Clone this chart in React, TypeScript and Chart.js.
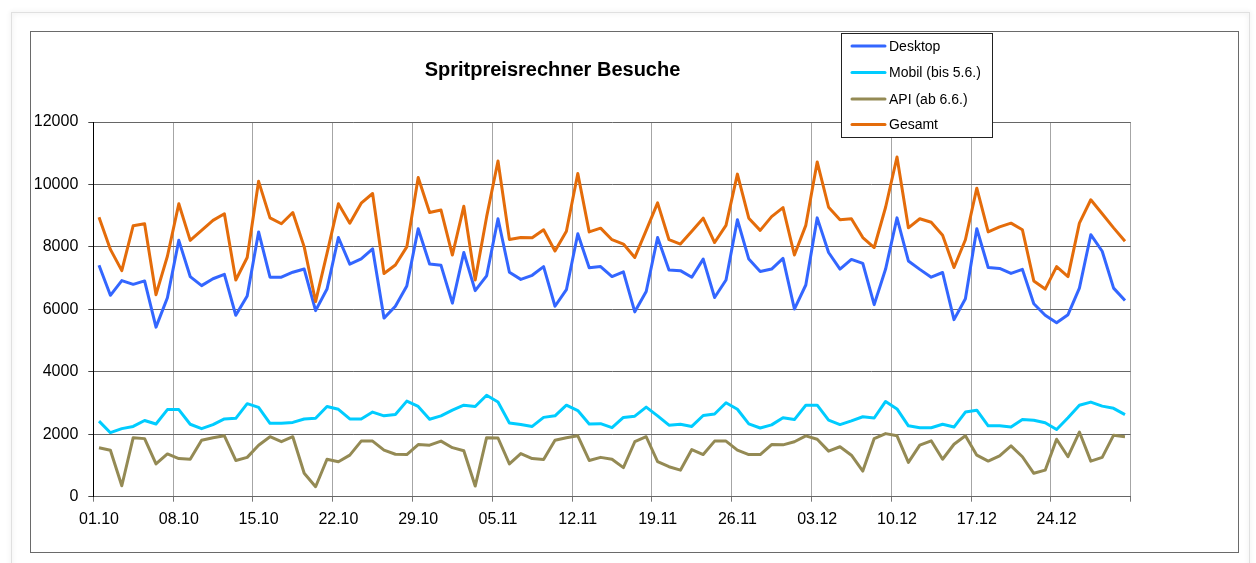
import React, { useEffect, useRef } from 'react';
import { Chart, registerables } from 'chart.js';

Chart.register(...registerables);

const categories = [
  '01.10','02.10','03.10','04.10','05.10','06.10','07.10','08.10','09.10','10.10',
  '11.10','12.10','13.10','14.10','15.10','16.10','17.10','18.10','19.10','20.10',
  '21.10','22.10','23.10','24.10','25.10','26.10','27.10','28.10','29.10','30.10','31.10',
  '01.11','02.11','03.11','04.11','05.11','06.11','07.11','08.11','09.11','10.11',
  '11.11','12.11','13.11','14.11','15.11','16.11','17.11','18.11','19.11','20.11',
  '21.11','22.11','23.11','24.11','25.11','26.11','27.11','28.11','29.11','30.11',
  '01.12','02.12','03.12','04.12','05.12','06.12','07.12','08.12','09.12','10.12',
  '11.12','12.12','13.12','14.12','15.12','16.12','17.12','18.12','19.12','20.12',
  '21.12','22.12','23.12','24.12','25.12','26.12','27.12','28.12','29.12','30.12',
];

const desktop = [
  7410, 6450, 6920, 6800, 6910, 5430, 6370, 8210, 7050, 6760,
  6980, 7120, 5810, 6430, 8480, 7030, 7030, 7190, 7290, 5960,
  6650, 8300, 7450, 7620, 7940, 5720, 6100, 6750, 8580, 7450, 7410,
  6200, 7820, 6600, 7070, 8900, 7190, 6960, 7090, 7370, 6100,
  6630, 8420, 7330, 7370, 7050, 7200, 5920, 6570, 8300, 7260,
  7240, 7030, 7610, 6380, 6940, 8870, 7610, 7210, 7290, 7630,
  6010, 6780, 8930, 7820, 7290, 7600, 7470, 6150, 7290, 8930,
  7550, 7280, 7030, 7180, 5670, 6340, 8580, 7340, 7310, 7150,
  7280, 6180, 5810, 5570, 5830, 6680, 8390, 7860, 6680, 6280,
];

const mobil = [
  2420, 2050, 2180, 2250, 2440, 2330, 2790, 2790, 2320, 2180,
  2310, 2490, 2510, 2980, 2860, 2350, 2350, 2380, 2490, 2510,
  2890, 2800, 2490, 2490, 2710, 2590, 2630, 3060, 2890, 2480, 2590,
  2770, 2930, 2890, 3250, 3030, 2360, 2310, 2250, 2540, 2590,
  2930, 2760, 2330, 2340, 2210, 2540, 2580, 2870, 2590, 2290,
  2320, 2250, 2600, 2650, 3010, 2800, 2330, 2200, 2300, 2530,
  2470, 2930, 2930, 2450, 2310, 2430, 2560, 2520, 3050, 2810,
  2270, 2210, 2210, 2320, 2230, 2710, 2770, 2270, 2270, 2230,
  2470, 2450, 2370, 2150, 2530, 2930, 3030, 2900, 2830, 2630,
];

const api = [
  1570, 1490, 350, 1890, 1860, 1050, 1370, 1220, 1200, 1810,
  1890, 1950, 1160, 1260, 1650, 1920, 1760, 1920, 750, 320,
  1200, 1120, 1330, 1780, 1780, 1490, 1360, 1350, 1670, 1650, 1780,
  1570, 1470, 340, 1890, 1880, 1050, 1380, 1220, 1190, 1810,
  1890, 1950, 1160, 1260, 1200, 930, 1760, 1920, 1120, 960,
  850, 1510, 1350, 1780, 1780, 1490, 1350, 1350, 1670, 1660,
  1760, 1950, 1840, 1460, 1600, 1330, 820, 1860, 2020, 1950,
  1100, 1650, 1790, 1200, 1680, 1950, 1330, 1140, 1310, 1630,
  1280, 750, 850, 1840, 1280, 2070, 1140, 1260, 1970, 1920,
];

const gesamt = [
  8950, 7920, 7240, 8680, 8740, 6470, 7700, 9380, 8210, 8530,
  8850, 9060, 6940, 7660, 10100, 8930, 8740, 9100, 8000, 6250,
  7790, 9380, 8760, 9400, 9710, 7150, 7420, 8000, 10220, 9100, 9180,
  7740, 9300, 6940, 8960, 10750, 8240, 8300, 8290, 8550, 7870,
  8500, 10350, 8480, 8600, 8230, 8090, 7660, 8530, 9410, 8230,
  8090, 8500, 8920, 8140, 8690, 10330, 8920, 8530, 8970, 9260,
  7740, 8690, 10720, 9270, 8870, 8900, 8300, 7980, 9270, 10880,
  8610, 8900, 8790, 8370, 7340, 8230, 9880, 8480, 8640, 8760,
  8550, 6910, 6650, 7370, 7050, 8760, 9510, 9060, 8610, 8180,
];

const seriesNames = ['Desktop', 'Mobil (bis 5.6.)', 'API (ab 6.6.)', 'Gesamt'];
const seriesColors = ['#3366FF', '#00CCFF', '#948A54', '#E46C0A'];
const chartTitle = 'Spritpreisrechner Besuche';
const yTickValues = [0, 2000, 4000, 6000, 8000, 10000, 12000];

const FONT = '"Liberation Sans", Arial, Helvetica, sans-serif';

export default function App() {
  const ref = useRef<HTMLCanvasElement | null>(null);

  useEffect(() => {
    if (!ref.current) return;

    const decor = {
      id: 'decor',
      beforeDraw(chart: any) {
        const ctx = chart.ctx;
        ctx.save();
        ctx.fillStyle = '#ffffff';
        ctx.fillRect(0, 0, chart.width, chart.height);
        ctx.shadowColor = 'rgba(0,0,0,0.18)';
        ctx.shadowBlur = 5;
        ctx.strokeStyle = '#e0e0e0';
        ctx.lineWidth = 1;
        ctx.strokeRect(11.5, 12.5, 1238, 570);
        ctx.shadowColor = 'rgba(0,0,0,0)';
        ctx.shadowBlur = 0;
        ctx.strokeStyle = '#6a6a6a';
        ctx.strokeRect(30.5, 31.5, 1208, 521);
        ctx.restore();
      },
      afterDraw(chart: any) {
        const ctx = chart.ctx;
        ctx.save();
        // title
        ctx.fillStyle = '#000';
        ctx.font = `bold 20px ${FONT}`;
        ctx.textAlign = 'center';
        ctx.textBaseline = 'alphabetic';
        ctx.fillText(chartTitle, 552.5, 76);
        // legend
        ctx.fillStyle = '#fff';
        ctx.fillRect(841, 33, 152, 105);
        ctx.strokeStyle = '#222';
        ctx.lineWidth = 1;
        ctx.strokeRect(841.5, 33.5, 151, 104);
        const rows = [46, 72.5, 99, 124.5];
        ctx.font = `14px ${FONT}`;
        ctx.textAlign = 'left';
        ctx.textBaseline = 'middle';
        seriesNames.forEach((name, i) => {
          ctx.strokeStyle = seriesColors[i];
          ctx.lineWidth = 3;
          ctx.lineCap = 'round';
          ctx.beginPath();
          ctx.moveTo(852, rows[i]);
          ctx.lineTo(885, rows[i]);
          ctx.stroke();
          ctx.fillStyle = '#000';
          ctx.fillText(name, 889, rows[i] + 1);
        });
        ctx.restore();
      },
    };

    const series = [desktop, mobil, api, gesamt];
    const chart = new Chart(ref.current, {
      type: 'line',
      data: {
        labels: categories,
        datasets: series.map((d, i) => ({
          label: seriesNames[i],
          data: d,
          borderColor: seriesColors[i],
          backgroundColor: seriesColors[i],
          borderWidth: 3,
          pointRadius: 0,
          tension: 0,
          fill: false,
          borderJoinStyle: 'round' as const,
          order: 3 - i,
        })),
      },
      options: {
        animation: false,
        responsive: false,
        events: [],
        layout: { padding: { left: 0, top: 122, right: 125.3, bottom: 26.3 } },
        plugins: {
          legend: { display: false },
          title: { display: false },
          tooltip: { enabled: false },
        },
        scales: {
          x: {
            type: 'category',
            offset: true,
            grid: {
              offset: true,
              drawOnChartArea: true,
              tickLength: 5,
              lineWidth: 1,
              color: (c: any) =>
                c.index === undefined
                  ? '#a6a6a6'
                  : c.index !== 0 && c.index % 7 === 0
                  ? '#a6a6a6'
                  : 'rgba(0,0,0,0)',
              tickColor: (c: any) =>
                c.index === undefined || c.index % 7 === 0 ? '#777' : 'rgba(0,0,0,0)',
            },
            border: { color: '#666', width: 1 },
            ticks: {
              autoSkip: false,
              maxRotation: 0,
              minRotation: 0,
              padding: 8,
              color: '#000',
              font: { family: FONT, size: 16 },
              callback: (_v: any, i: number) => (i % 7 === 0 ? categories[i] : ''),
            },
            afterFit: (s: any) => {
              s.height = 40;
            },
          },
          y: {
            min: 0,
            max: 12000,
            afterBuildTicks: (s: any) => {
              s.ticks = yTickValues.map((v) => ({ value: v }));
            },
            grid: { color: '#666', tickColor: '#444', tickLength: 5, lineWidth: 1 },
            border: { color: '#000', width: 1 },
            ticks: {
              padding: 10,
              color: '#000',
              font: { family: FONT, size: 16 },
              callback: (v: any) => String(v),
            },
            afterFit: (s: any) => {
              s.width = 93.3;
            },
          },
        },
      },
      plugins: [decor],
    });

    return () => chart.destroy();
  }, []);

  return (
    <div style={{ position: 'fixed', left: 0, top: 0, width: 1256, height: 563, background: '#fff' }}>
      <canvas ref={ref} width={1256} height={563} style={{ display: 'block', width: 1256, height: 563 }} />
    </div>
  );
}
